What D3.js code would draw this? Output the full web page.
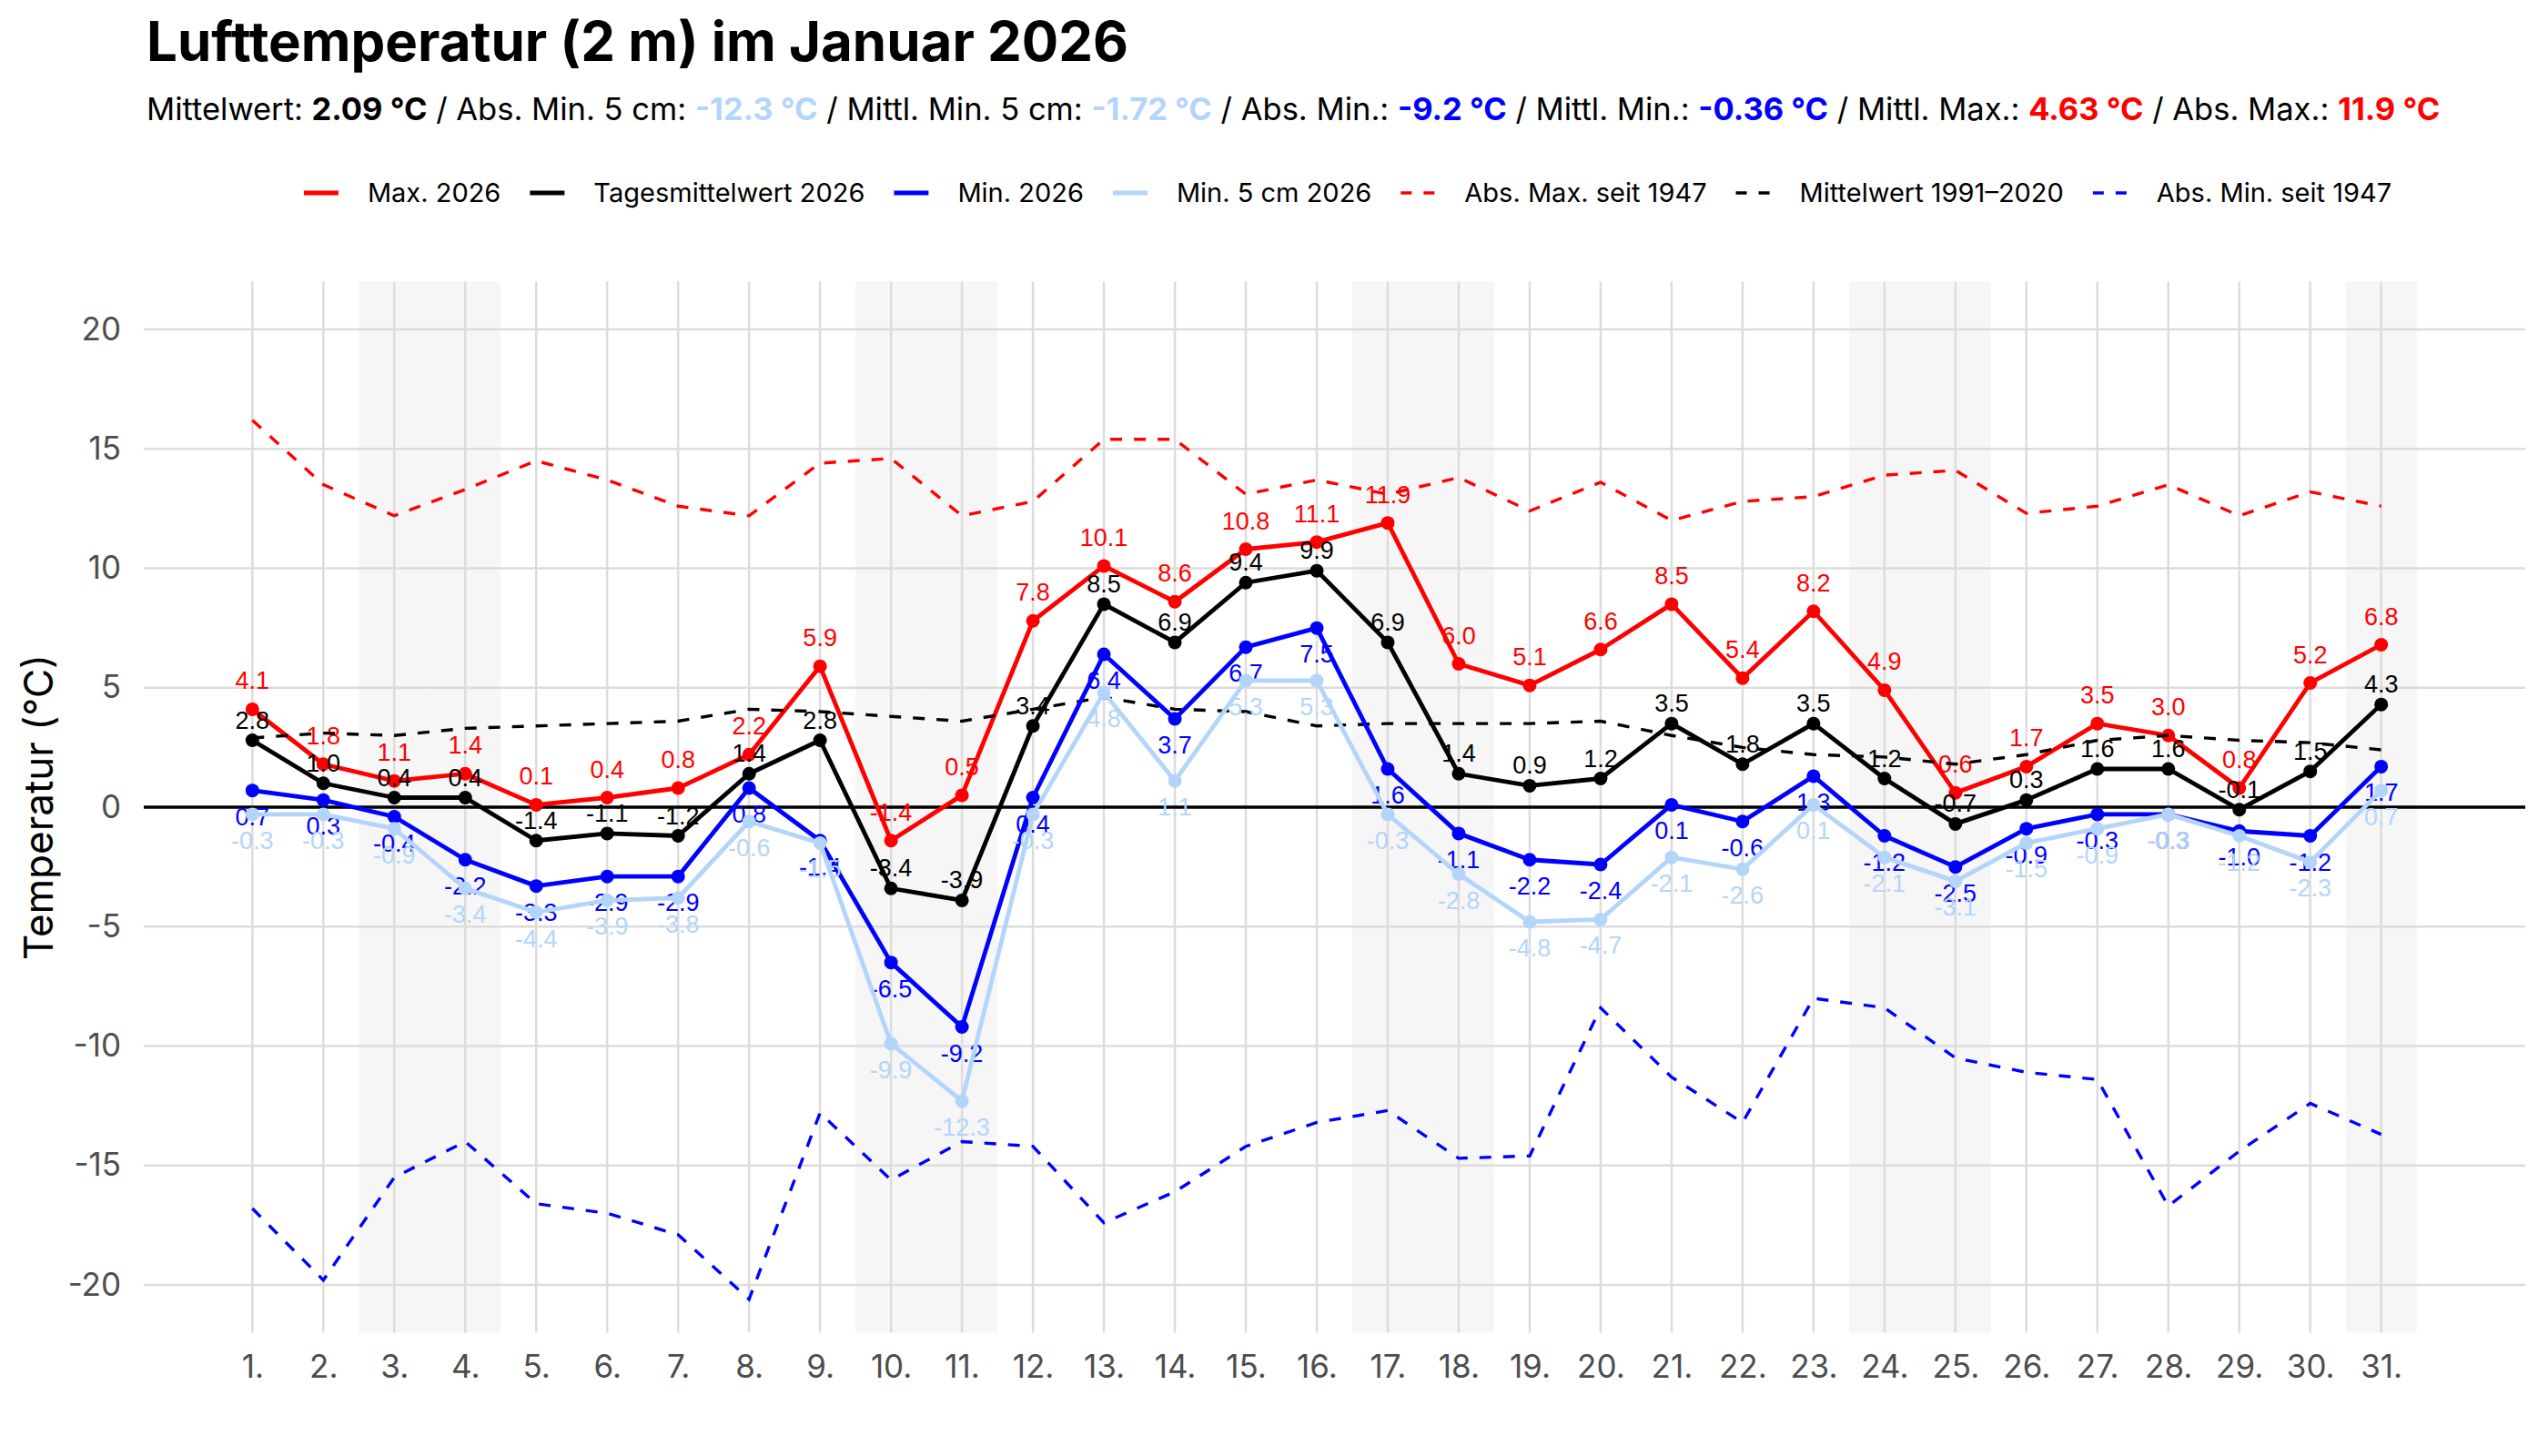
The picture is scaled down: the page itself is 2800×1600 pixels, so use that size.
<!DOCTYPE html>
<html>
<head>
<meta charset="utf-8">
<script src="https://cdn.jsdelivr.net/npm/d3@7"></script>
<style>
  body { margin: 0; background: #fff; }
</style>
</head>
<body>
<div id="chart"></div>
<script>
// Daten Januar 2026
var days = [1, 2, 3, 4, 5, 6, 7, 8, 9, 10, 11, 12, 13, 14, 15, 16, 17, 18, 19, 20, 21, 22, 23, 24, 25, 26, 27, 28, 29, 30, 31];
var weekendDays = [3, 4, 10, 11, 17, 18, 24, 25, 31];

var maxTemp  = [4.1, 1.8, 1.1, 1.4, 0.1, 0.4, 0.8, 2.2, 5.9, -1.4, 0.5, 7.8, 10.1, 8.6, 10.8, 11.1, 11.9, 6.0, 5.1, 6.6, 8.5, 5.4, 8.2, 4.9, 0.6, 1.7, 3.5, 3.0, 0.8, 5.2, 6.8];
var meanTemp = [2.8, 1.0, 0.4, 0.4, -1.4, -1.1, -1.2, 1.4, 2.8, -3.4, -3.9, 3.4, 8.5, 6.9, 9.4, 9.9, 6.9, 1.4, 0.9, 1.2, 3.5, 1.8, 3.5, 1.2, -0.7, 0.3, 1.6, 1.6, -0.1, 1.5, 4.3];
var minTemp  = [0.7, 0.3, -0.4, -2.2, -3.3, -2.9, -2.9, 0.8, -1.4, -6.5, -9.2, 0.4, 6.4, 3.7, 6.7, 7.5, 1.6, -1.1, -2.2, -2.4, 0.1, -0.6, 1.3, -1.2, -2.5, -0.9, -0.3, -0.3, -1.0, -1.2, 1.7];
var min5Temp = [-0.3, -0.3, -0.9, -3.4, -4.4, -3.9, -3.8, -0.6, -1.5, -9.9, -12.3, -0.3, 4.8, 1.1, 5.3, 5.3, -0.3, -2.8, -4.8, -4.7, -2.1, -2.6, 0.1, -2.1, -3.1, -1.5, -0.9, -0.3, -1.2, -2.3, 0.7];

var absMax   = [16.2, 13.5, 12.2, 13.3, 14.5, 13.7, 12.6, 12.2, 14.4, 14.6, 12.2, 12.8, 15.4, 15.4, 13.1, 13.7, 13.1, 13.8, 12.4, 13.6, 12.0, 12.8, 13.0, 13.9, 14.1, 12.3, 12.6, 13.5, 12.2, 13.2, 12.6];
var climMean = [2.9, 3.1, 3.0, 3.3, 3.4, 3.5, 3.6, 4.1, 4.0, 3.8, 3.6, 4.1, 4.6, 4.1, 4.0, 3.4, 3.5, 3.5, 3.5, 3.6, 3.0, 2.5, 2.2, 2.1, 1.8, 2.2, 2.8, 3.0, 2.8, 2.7, 2.4];
var absMin   = [-16.8, -19.8, -15.5, -14.0, -16.6, -17.0, -17.9, -20.6, -12.8, -15.6, -14.0, -14.2, -17.4, -16.1, -14.2, -13.2, -12.7, -14.7, -14.6, -8.4, -11.3, -13.2, -8.0, -8.4, -10.5, -11.1, -11.4, -16.7, -14.4, -12.4, -13.7];

var yTicks = [-20, -15, -10, -5, 0, 5, 10, 15, 20];

var legendLabels = ["Max. 2026", "Tagesmittelwert 2026", "Min. 2026", "Min. 5 cm 2026", "Abs. Max. seit 1947", "Mittelwert 1991\u20132020", "Abs. Min. seit 1947"];

var subtitleLabels = ["Mittelwert: ", " / Abs. Min. 5 cm: ", " / Mittl. Min. 5 cm: ", " / Abs. Min.: ", " / Mittl. Min.: ", " / Mittl. Max.: ", " / Abs. Max.: "];
var subtitleValues = ["2.09 \u00b0C", "-12.3 \u00b0C", "-1.72 \u00b0C", "-9.2 \u00b0C", "-0.36 \u00b0C", "4.63 \u00b0C", "11.9 \u00b0C"];

// Farben
var RED = "#ff0000", BLACK = "#000000", BLUE = "#0000ff", LIGHT = "#b3d5fb";
var subtitleColors = [BLACK, LIGHT, LIGHT, BLUE, BLUE, RED, RED];
var legendStyle = [
  {color: RED, dash: null}, {color: BLACK, dash: null}, {color: BLUE, dash: null}, {color: LIGHT, dash: null},
  {color: RED, dash: "12,13"}, {color: BLACK, dash: "12,13"}, {color: BLUE, dash: "12,13"}
];

// Lienzo
var width = 2800;
var height = 1600;
var svg = d3.select("#chart").append("svg")
  .attr("width", width)
  .attr("height", height)
  .style("font-family", "Inter, 'Noto Sans', sans-serif");

var plotLeft = 158, plotRight = 2775, plotTop = 309.5, plotBottom = 1464.5;

var x = d3.scaleLinear().domain([-0.53, 33.03]).range([plotLeft, plotRight]);
var y = d3.scaleLinear().domain([-22, 22]).range([plotBottom, plotTop]);

// Wochenenden
svg.append("g").selectAll("rect")
  .data(weekendDays)
  .enter().append("rect")
  .attr("x", function(d) { return x(d - 0.5); })
  .attr("y", plotTop)
  .attr("width", x(1) - x(0))
  .attr("height", plotBottom - plotTop)
  .attr("fill", "#f6f6f6");

// Gitter
var grid = svg.append("g").attr("stroke", "#dcdcdc").attr("stroke-width", 2.5);
grid.selectAll("line.h").data(yTicks).enter().append("line")
  .attr("x1", plotLeft).attr("x2", plotRight)
  .attr("y1", function(d) { return y(d); }).attr("y2", function(d) { return y(d); });
grid.selectAll("line.v").data(days).enter().append("line")
  .attr("x1", function(d) { return x(d); }).attr("x2", function(d) { return x(d); })
  .attr("y1", plotTop).attr("y2", plotBottom);

// Nulllinie
svg.append("line")
  .attr("x1", plotLeft).attr("x2", plotRight)
  .attr("y1", y(0)).attr("y2", y(0))
  .attr("stroke", "#000").attr("stroke-width", 3.5);

// Achsen
var yAxis = d3.axisLeft(y).tickValues(yTicks).tickSize(0).tickPadding(0)
  .tickFormat(function(d) { return String(d); });
svg.append("g")
  .attr("transform", "translate(133,0)")
  .call(yAxis)
  .call(function(g) { g.select(".domain").remove(); })
  .selectAll("text")
  .attr("fill", "#4d4d4d")
  .style("font-size", "35px")
  .style("font-family", "Inter, sans-serif");

var xAxis = d3.axisBottom(x).tickValues(days).tickSize(0).tickPadding(0).tickFormat(function(d) { return d + "."; });
svg.append("g")
  .attr("transform", "translate(0,1489)")
  .call(xAxis)
  .call(function(g) { g.select(".domain").remove(); })
  .selectAll("text")
  .attr("fill", "#4d4d4d")
  .attr("dy", "0.71em")
  .style("font-size", "35px")
  .style("font-family", "Inter, sans-serif");

svg.append("text")
  .attr("transform", "translate(58," + (plotTop + plotBottom) / 2 + ") rotate(-90)")
  .attr("text-anchor", "middle")
  .style("font-size", "44px")
  .attr("fill", "#000")
  .text("Temperatur (\u00b0C)");

// Linien
var line = d3.line()
  .x(function(d, i) { return x(days[i]); })
  .y(function(d) { return y(d); });

function dashedSeries(values, color) {
  svg.append("path")
    .datum(values)
    .attr("d", line)
    .attr("fill", "none")
    .attr("stroke", color)
    .attr("stroke-width", 3.4)
    .attr("stroke-dasharray", "13,13");
}

function solidSeries(values, color, labelDy) {
  var g = svg.append("g");
  g.append("path")
    .datum(values)
    .attr("d", line)
    .attr("fill", "none")
    .attr("stroke", color)
    .attr("stroke-width", 4.8)
    .attr("stroke-linejoin", "round");
  g.selectAll("circle").data(values).enter().append("circle")
    .attr("cx", function(d, i) { return x(days[i]); })
    .attr("cy", function(d) { return y(d); })
    .attr("r", 7.5)
    .attr("fill", color);
  g.selectAll("text").data(values).enter().append("text")
    .attr("x", function(d, i) { return x(days[i]); })
    .attr("y", function(d) { return y(d) + labelDy; })
    .attr("text-anchor", "middle")
    .attr("fill", color)
    .style("font-family", "'Liberation Sans', Arial, sans-serif")
    .style("font-size", "27px")
    .text(function(d) { return d.toFixed(1); });
}

dashedSeries(absMax, RED);
dashedSeries(absMin, BLUE);
solidSeries(maxTemp, RED, -22);
dashedSeries(climMean, BLACK);
solidSeries(meanTemp, BLACK, -13);
solidSeries(minTemp, BLUE, 38);
solidSeries(min5Temp, LIGHT, 38);

// Titel
svg.append("text")
  .attr("x", 161).attr("y", 67)
  .style("font-size", "60px")
  .style("font-weight", "700")
  .attr("fill", "#000")
  .text("Lufttemperatur (2 m) im Januar 2026");

var sub = svg.append("text")
  .attr("x", 161).attr("y", 132)
  .style("font-size", "34.5px")
  .attr("fill", "#000");
subtitleLabels.forEach(function(lab, i) {
  sub.append("tspan").text(lab);
  sub.append("tspan")
    .style("font-weight", "700")
    .attr("fill", subtitleColors[i])
    .text(subtitleValues[i]);
});

// Legende
var legend = svg.append("g");
var cursor = 0;
legendLabels.forEach(function(lab, i) {
  var item = legend.append("g").attr("transform", "translate(" + cursor + ",0)");
  item.append("line")
    .attr("x1", 0).attr("x2", 38)
    .attr("y1", 212).attr("y2", 212)
    .attr("stroke", legendStyle[i].color)
    .attr("stroke-width", legendStyle[i].dash ? 3.4 : 4.8)
    .attr("stroke-dasharray", legendStyle[i].dash);
  var t = item.append("text")
    .attr("x", 70).attr("y", 222)
    .style("font-size", "29px")
    .attr("fill", "#000")
    .text(lab);
  cursor += 70 + t.node().getComputedTextLength() + 32;
});
var legendWidth = cursor - 32;
legend.attr("transform", "translate(" + (1481 - legendWidth / 2) + ",0)");
</script>
</body>
</html>
